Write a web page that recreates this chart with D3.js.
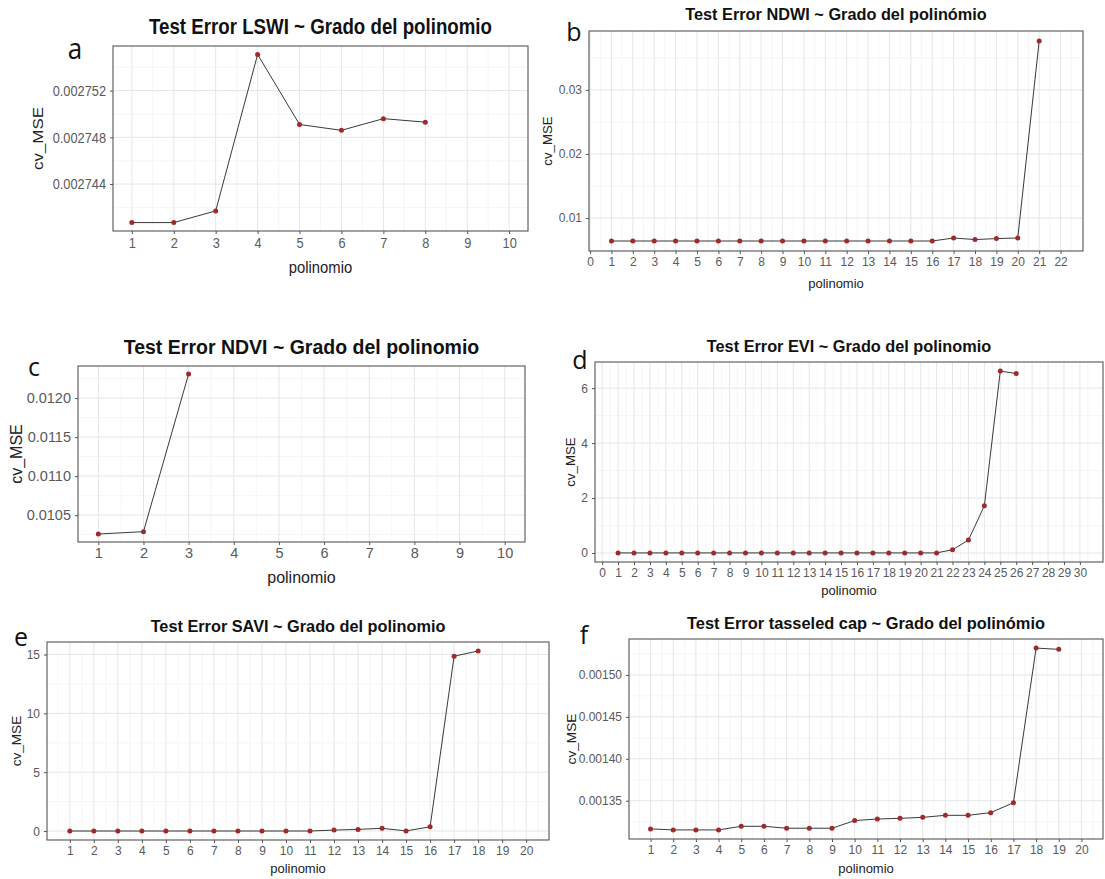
<!DOCTYPE html>
<html lang="es">
<head>
<meta charset="utf-8">
<title>Test Error ~ Grado del polinomio</title>
<script src="https://d3js.org/d3.v7.min.js"></script>
<style>
  body { margin: 0; background: #fff; }
  svg { display: block; }
  text { font-family: "Liberation Sans", Arial, sans-serif; }
</style>
</head>
<body>
<script>
// ---- data ----
var lswiDegree = [1, 2, 3, 4, 5, 6, 7, 8];
var lswiMSE = [0.0027407, 0.0027407, 0.0027417, 0.0027551, 0.0027491, 0.0027486, 0.0027496, 0.0027493];
var lswiXTicks = [1, 2, 3, 4, 5, 6, 7, 8, 9, 10];
var lswiYTicks = [0.002744, 0.002748, 0.002752];

var ndwiDegree = d3.range(1, 22);
var ndwiMSE = [0.00642, 0.00642, 0.00642, 0.00642, 0.00642, 0.00642, 0.00642, 0.00642,
               0.00642, 0.00642, 0.00642, 0.00642, 0.00642, 0.00642, 0.00642, 0.00642,
               0.00689, 0.00664, 0.0068, 0.00689, 0.03762];
var ndwiXTicks = d3.range(0, 23);
var ndwiYTicks = [0.01, 0.02, 0.03];

var ndviDegree = [1, 2, 3];
var ndviMSE = [0.010258, 0.010288, 0.012309];
var ndviXTicks = [1, 2, 3, 4, 5, 6, 7, 8, 9, 10];
var ndviYTicks = [0.0105, 0.011, 0.0115, 0.012];

var eviDegree = d3.range(1, 27);
var eviMSE = [0.004, 0.004, 0.004, 0.004, 0.004, 0.004, 0.004, 0.004, 0.004, 0.004,
              0.004, 0.004, 0.004, 0.004, 0.004, 0.004, 0.004, 0.004, 0.004, 0.004,
              0.004, 0.12, 0.47, 1.72, 6.62, 6.53];
var eviXTicks = d3.range(0, 31);
var eviYTicks = [0, 2, 4, 6];

var saviDegree = d3.range(1, 19);
var saviMSE = [0.003, 0.003, 0.003, 0.003, 0.003, 0.003, 0.003, 0.003, 0.003, 0.003,
               0.003, 0.08, 0.14, 0.23, 0.01, 0.36, 14.86, 15.3];
var saviXTicks = d3.range(1, 21);
var saviYTicks = [0, 5, 10, 15];

var tcDegree = d3.range(1, 20);
var tcMSE = [0.0013164, 0.0013152, 0.0013152, 0.0013152, 0.0013195, 0.0013195, 0.0013172,
             0.0013172, 0.0013172, 0.0013263, 0.0013282, 0.001329, 0.0013302, 0.0013326,
             0.0013326, 0.0013358, 0.0013476, 0.001532, 0.0015305];
var tcXTicks = d3.range(1, 21);
var tcYTicks = [0.00135, 0.0014, 0.00145, 0.0015];

// ---- panel layout (sy = vertical stretch of the pasted panel's text) ----
var panels = [
  {letter: "a", title: "Test Error LSWI ~ Grado del polinomio", x: lswiDegree, y: lswiMSE,
   xlim: [1, 10], xt: lswiXTicks, yt: lswiYTicks, fmt: ".6f", sy: 1.14,
   box: [113, 528, 46, 231], titleY: 26, titleFs: 18.7, letterX: 75, letterY: 48, letterFs: 26,
   tickFs: 12.8, labFs: 14.8, xlabY: 267, ylabX: 38},
  {letter: "b", title: "Test Error NDWI ~ Grado del polinómio", x: ndwiDegree, y: ndwiMSE,
   xlim: [1, 22], xt: ndwiXTicks, yt: ndwiYTicks, fmt: ".2f", sy: 1.02,
   box: [589, 1083, 31, 251], titleY: 14.5, titleFs: 16.3, letterX: 574, letterY: 32, letterFs: 25,
   tickFs: 12, labFs: 13, xlabY: 283, ylabX: 547},
  {letter: "c", title: "Test Error NDVI ~ Grado del polinomio", x: ndviDegree, y: ndviMSE,
   xlim: [1, 10], xt: ndviXTicks, yt: ndviYTicks, fmt: ".4f", sy: 1.0,
   box: [78, 525, 366, 542], titleY: 347, titleFs: 19.5, letterX: 34, letterY: 367, letterFs: 25,
   tickFs: 14.5, labFs: 16, xlabY: 577, ylabX: 16},
  {letter: "d", title: "Test Error EVI ~ Grado del polinomio", x: eviDegree, y: eviMSE,
   xlim: [1, 30], xt: eviXTicks, yt: eviYTicks, fmt: "d", sy: 1.02,
   box: [595, 1103, 362, 562], titleY: 346, titleFs: 16.3, letterX: 580, letterY: 360, letterFs: 25,
   tickFs: 12, labFs: 13, xlabY: 590, ylabX: 570},
  {letter: "e", title: "Test Error SAVI ~ Grado del polinomio", x: saviDegree, y: saviMSE,
   xlim: [1, 20], xt: saviXTicks, yt: saviYTicks, fmt: "d", sy: 1.04,
   box: [47, 549, 642, 840], titleY: 626, titleFs: 16.3, letterX: 21, letterY: 637, letterFs: 25,
   tickFs: 12, labFs: 13, xlabY: 868, ylabX: 16},
  {letter: "f", title: "Test Error tasseled cap ~ Grado del polinómio", x: tcDegree, y: tcMSE,
   xlim: [1, 20], xt: tcXTicks, yt: tcYTicks, fmt: ".5f", sy: 1.05,
   box: [629, 1103, 639, 839], titleY: 623, titleFs: 16.4, letterX: 584, letterY: 635, letterFs: 25,
   tickFs: 12, labFs: 13, xlabY: 868, ylabX: 571}
];

var svg = d3.select("body").append("svg")
    .attr("width", 1105)
    .attr("height", 879);

// ggplot style 5% expansion
function expand(ext) {
  var pad = (ext[1] - ext[0]) * 0.05;
  return [ext[0] - pad, ext[1] + pad];
}
function minorOf(ticks, dom) {
  var step = ticks[1] - ticks[0];
  var out = [];
  for (var v = ticks[0] - step / 2; v <= dom[1]; v += step) {
    if (v >= dom[0]) out.push(v);
  }
  return out;
}
// text centred on (x, y), stretched vertically by sy
function label(g, str, x, y, fs, sy, rotate) {
  var tr = "translate(" + x + "," + y + ")" + (rotate ? " rotate(-90) scale(" + sy + ",1)" : " scale(1," + sy + ")");
  return g.append("text")
      .attr("transform", tr)
      .attr("y", fs * 0.36)
      .attr("text-anchor", "middle")
      .style("font-size", fs + "px")
      .text(str);
}

panels.forEach(function(p) {
  var x0 = p.box[0], x1 = p.box[1], y0 = p.box[2], y1 = p.box[3];
  var xDom = expand(p.xlim);
  var yDom = expand(d3.extent(p.y));
  var x = d3.scaleLinear().domain(xDom).range([x0, x1]);
  var y = d3.scaleLinear().domain(yDom).range([y1, y0]);
  var g = svg.append("g");

  // grid: minor then major
  var grid = g.append("g");
  grid.selectAll("line.vmin").data(minorOf(p.xt, xDom)).enter().append("line")
      .attr("x1", x).attr("x2", x).attr("y1", y0).attr("y2", y1)
      .attr("stroke", "#f0f0f0").attr("stroke-width", 0.6);
  grid.selectAll("line.hmin").data(minorOf(p.yt, yDom)).enter().append("line")
      .attr("y1", y).attr("y2", y).attr("x1", x0).attr("x2", x1)
      .attr("stroke", "#f0f0f0").attr("stroke-width", 0.6);
  grid.selectAll("line.vmaj").data(p.xt.filter(function(t) { return t >= xDom[0] && t <= xDom[1]; }))
      .enter().append("line")
      .attr("x1", x).attr("x2", x).attr("y1", y0).attr("y2", y1)
      .attr("stroke", "#e6e6e6").attr("stroke-width", 1);
  grid.selectAll("line.hmaj").data(p.yt).enter().append("line")
      .attr("y1", y).attr("y2", y).attr("x1", x0).attr("x2", x1)
      .attr("stroke", "#e6e6e6").attr("stroke-width", 1);

  // line + points
  var pts = p.x.map(function(d, i) { return [d, p.y[i]]; });
  g.append("path")
      .datum(pts)
      .attr("fill", "none")
      .attr("stroke", "#222")
      .attr("stroke-width", 0.9)
      .attr("d", d3.line().x(function(d) { return x(d[0]); }).y(function(d) { return y(d[1]); }));
  g.selectAll("circle").data(pts).enter().append("circle")
      .attr("cx", function(d) { return x(d[0]); })
      .attr("cy", function(d) { return y(d[1]); })
      .attr("r", 2.5)
      .attr("fill", "#a0292b");

  // axes
  var xa = g.append("g").attr("transform", "translate(0," + y1 + ")")
      .call(d3.axisBottom(x).tickValues(p.xt).tickFormat(d3.format("d")).tickSize(3).tickPadding(3));
  var ya = g.append("g").attr("transform", "translate(" + x0 + ",0)")
      .call(d3.axisLeft(y).tickValues(p.yt).tickFormat(d3.format(p.fmt)).tickSize(3).tickPadding(4));
  [xa, ya].forEach(function(a) {
    a.select(".domain").remove();
    a.selectAll(".tick line").attr("stroke", "#555");
    a.selectAll(".tick text").attr("fill", "#5a5a5a")
        .attr("transform", "scale(1," + p.sy + ")")
        .style("font-family", "'Liberation Sans', Arial, sans-serif")
        .style("font-size", p.tickFs + "px");
  });

  // panel border
  g.append("rect")
      .attr("x", x0).attr("y", y0)
      .attr("width", x1 - x0).attr("height", y1 - y0)
      .attr("fill", "none").attr("stroke", "#555").attr("stroke-width", 1.1);

  var cx = (x0 + x1) / 2, cy = (y0 + y1) / 2;
  label(g, p.title, cx, p.titleY, p.titleFs, p.sy)
      .style("font-weight", "bold").attr("fill", "#111");
  label(g, "polinomio", cx, p.xlabY, p.labFs, p.sy).attr("fill", "#222");
  label(g, "cv_MSE", p.ylabX, cy, p.labFs, p.sy, true).attr("fill", "#222");
  label(g, p.letter, p.letterX, p.letterY, p.letterFs, p.sy)
      .style("font-family", "'Open Sans', sans-serif").attr("fill", "#111");
});
</script>
</body>
</html>
